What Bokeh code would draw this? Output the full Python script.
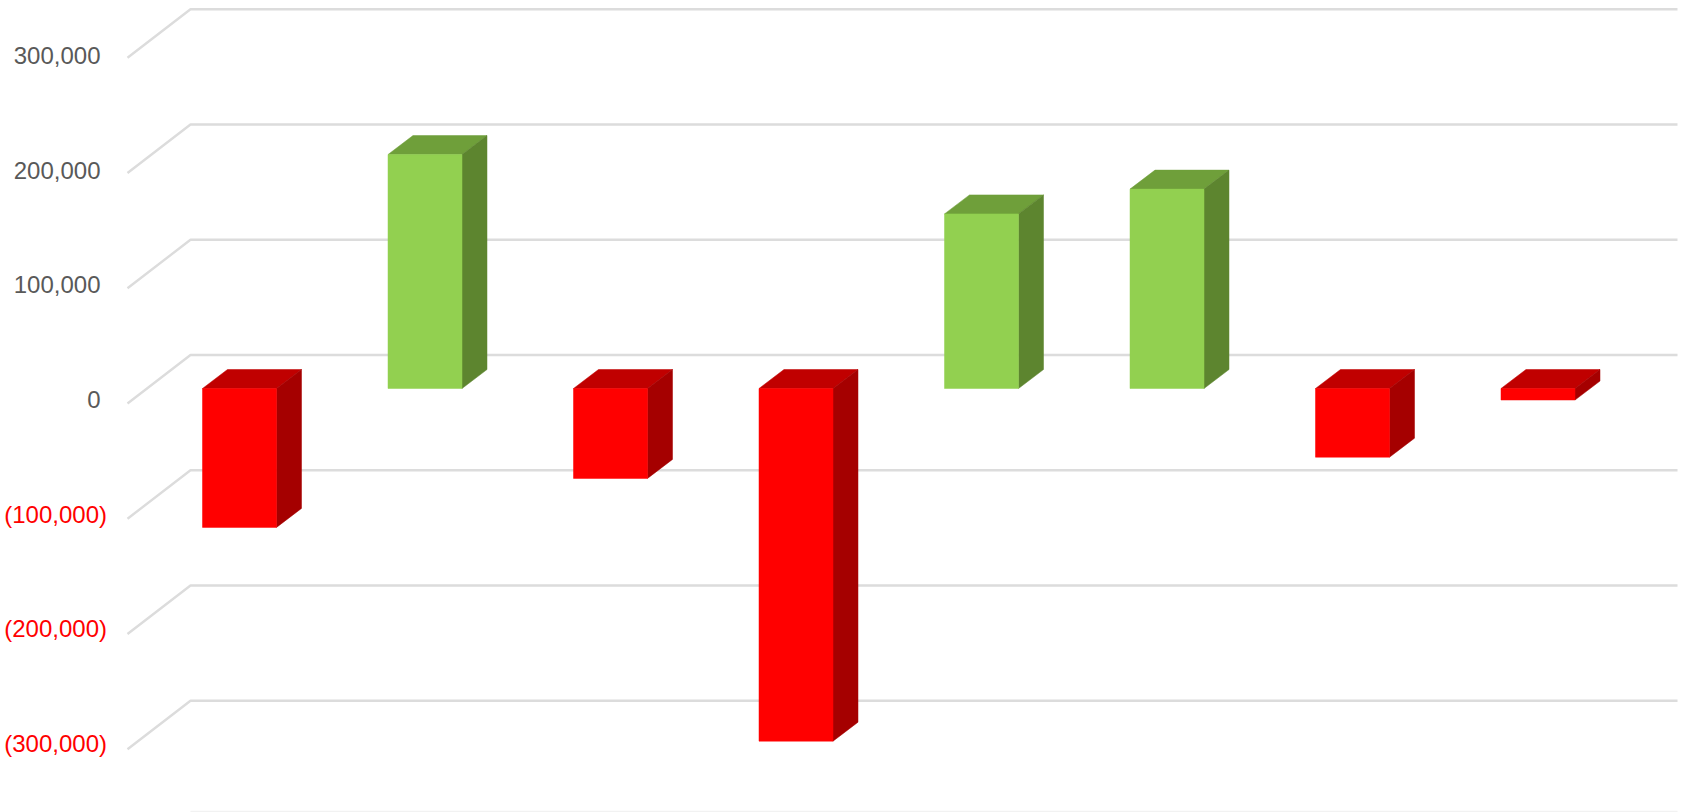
from bokeh.plotting import figure
from bokeh.embed import file_html
from bokeh.resources import INLINE
from bokeh.core.properties import value

# ---- data
categories = [0, 1, 2, 3, 4, 5, 6, 7]
values = [-120500, 203000, -78000, -306000, 151500, 173000, -59600, -10000]
tick_values = [300000, 200000, 100000, 0, -100000, -200000, -300000]
tick_labels = ["300,000", "200,000", "100,000", "0", "(100,000)", "(200,000)", "(300,000)"]
floor_value = -396000

# ---- styles
RED = ("#FF0000", "#C00000", "#A50000")
GREEN = ("#92D050", "#6F9F3A", "#5D852F")
GRID = "#DCDCDC"
W, H = 1665, 796
X0 = 239.0; PX_X = 185.5      # px of category 0 centre, px per category
Y0 = 388.0; PX_Y = 115.25 / 100000  # px of zero, px per unit

def ux(px): return px / PX_X
def uy(px): return px / PX_Y

bar_w = ux(74)
bar_dx, bar_dy = ux(25), uy(19)
wall_front, wall_back = (127 - X0) / PX_X, (190 - X0) / PX_X
wall_right = (1677 - X0) / PX_X
front_dy, back_dy = uy(-15), uy(33.5)
label_scale = 114.7 / 115.25
label_dy = uy(-11)

p = figure(width=W + 16, height=H + 16, output_backend="svg", toolbar_location=None,
           x_range=(-X0 / PX_X, (W + 16 - X0) / PX_X),
           y_range=(-(H + 16 - Y0) / PX_Y, Y0 / PX_Y),
           x_axis_location=None, y_axis_location=None,
           min_border=0,
           background_fill_color="white", border_fill_color="white")
p.outline_line_color = None
p.xgrid.visible = False
p.ygrid.visible = False

# back wall gridlines and their diagonals on the side wall
xs, ys = [], []
for t in tick_values:
    xs.append([wall_front, wall_back, wall_right])
    ys.append([t + front_dy, t + back_dy, t + back_dy])
p.multi_line(xs, ys, line_color=GRID, line_width=2.4)
p.line([wall_back, wall_right], [floor_value + back_dy] * 2, line_color="#F2F2F2", line_width=1.5)

# 3D bars
for c, v in zip(categories, values):
    front, top, side = GREEN if v >= 0 else RED
    l, r = c - bar_w / 2, c + bar_w / 2
    hi, lo = max(v, 0), min(v, 0)
    p.patch([l, r, r + bar_dx, l + bar_dx], [hi, hi, hi + bar_dy, hi + bar_dy],
            fill_color=top, line_color=top, line_width=0.5)
    p.patch([r, r + bar_dx, r + bar_dx, r], [hi, hi + bar_dy, lo + bar_dy, lo],
            fill_color=side, line_color=side, line_width=0.5)
    p.quad(left=[l], right=[r], top=[hi], bottom=[lo],
           fill_color=front, line_color=front, line_width=0.5)

# value labels
lab_x = (100 - X0) / PX_X
for t, s in zip(tick_values, tick_labels):
    neg = t < 0
    p.text([lab_x], [t * label_scale + label_dy], text=[s], text_align="right", text_baseline="middle",
           x_offset=6.5 if neg else 0,
           text_font=value("Liberation Sans"), text_font_size="24px",
           text_color="#FF0000" if neg else "#595959")

open("out.html", "w").write(file_html(p, INLINE))
